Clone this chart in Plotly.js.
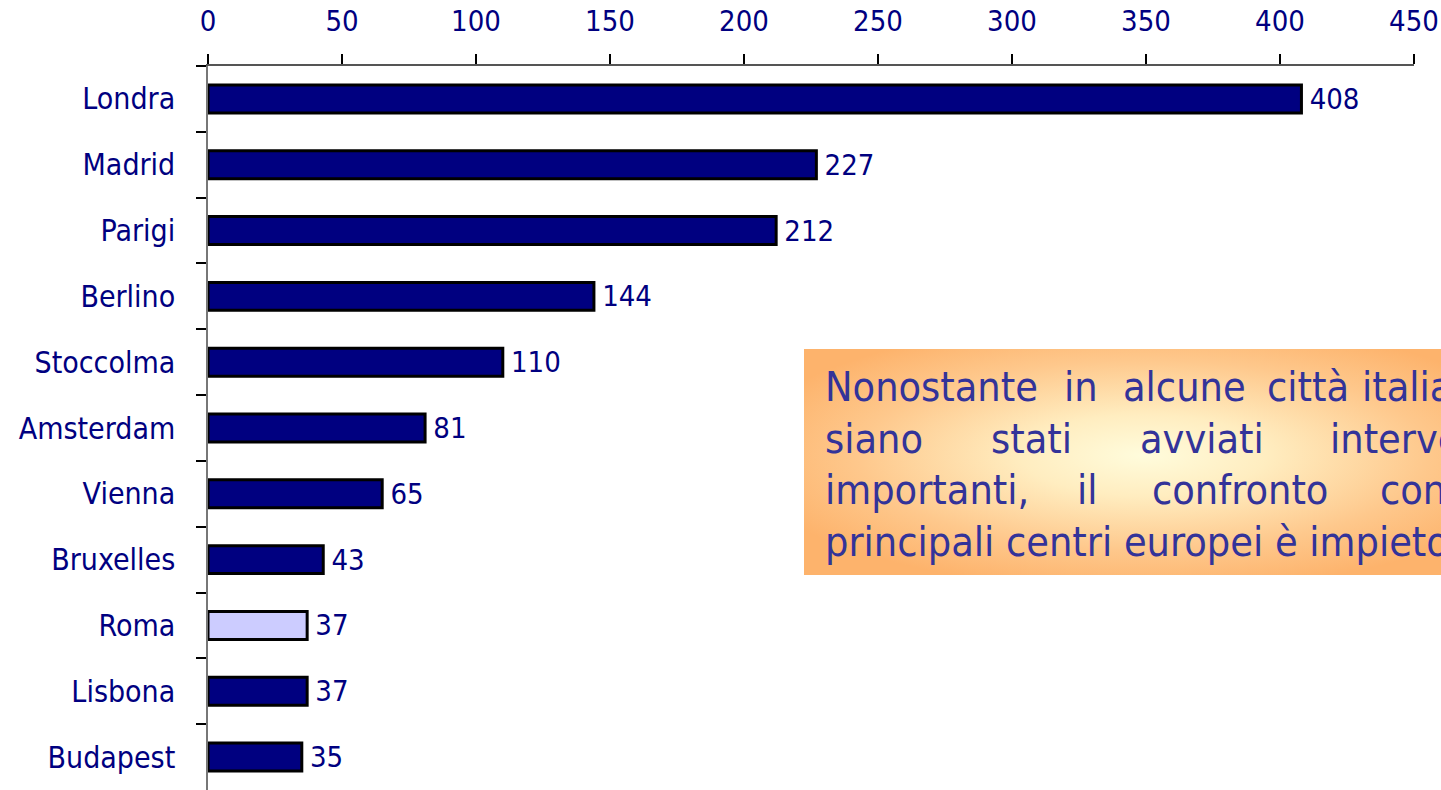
<!DOCTYPE html>
<html>
<head>
<meta charset="utf-8">
<script src="https://cdn.plot.ly/plotly-3.0.1.min.js"></script>
<style>html,body{margin:0;padding:0;background:#fff;overflow:hidden}#chart{width:1441px;height:790px}</style>
</head>
<body>
<div id="chart"></div>
<script>
const cities = ["Londra","Madrid","Parigi","Berlino","Stoccolma","Amsterdam","Vienna","Bruxelles","Roma","Lisbona","Budapest"];
const values = [408,227,212,144,110,81,65,43,37,37,35];
const highlightCity = "Roma";
const xTicks = [0,50,100,150,200,250,300,350,400,450];
const noteLines = [
  ["Nonostante","in","alcune","città","italiane"],
  ["siano","stati","avviati","interventi"],
  ["importanti,","il","confronto","con"],
  ["principali centri europei è impietoso"]
];
const noteWordX = [
  [823,1062,1121,1265,1360],
  [823,989,1138,1328],
  [823,1075,1150,1378],
  [823]
];
const noteLineY = [387,439,490,542];

const NAVY = "#000080";
const FONT = "DejaVu Sans Condensed, Tahoma, sans-serif";
const W = 1441, H = 790, ML = 208, MR = 27, MT = 66, MB = 0;
const PW = W - ML - MR, PH = H - MT - MB;
const px2x = p => (p - ML) / PW;
const py2y = p => (H - MB - p) / PH;

const colors = cities.map(c => c === highlightCity ? "#CCCCFF" : NAVY);

const trace = {
  type: "bar",
  orientation: "h",
  y: cities,
  x: values,
  marker: {color: colors, line: {color: "#000", width: 3}},
  text: values.map(v => "\u2009" + v),
  textposition: "outside",
  constraintext: "none",
  cliponaxis: false,
  textfont: {family: FONT, size: 29, color: NAVY},
  hoverinfo: "x+y"
};

const svg = '<svg xmlns="http://www.w3.org/2000/svg" width="680" height="226" viewBox="0 0 680 226" preserveAspectRatio="none">' +
  '<defs><radialGradient id="g" cx="0.5" cy="0.47" r="0.6" gradientUnits="objectBoundingBox">' +
  '<stop offset="0" stop-color="#FFFCDC"/><stop offset="0.3" stop-color="#FFEDC0"/><stop offset="0.7" stop-color="#FEC88C"/><stop offset="1" stop-color="#FDB36C"/></radialGradient></defs>' +
  '<rect x="0" y="0" width="680" height="226" fill="url(#g)"/></svg>';
const imgSrc = "data:image/svg+xml;charset=utf-8," + encodeURIComponent(svg);

const annotations = [];
noteLines.forEach((words, i) => {
  words.forEach((w, j) => {
    annotations.push({
      xref: "paper", yref: "paper",
      x: px2x(noteWordX[i][j]), y: py2y(noteLineY[i]),
      xanchor: "left", yanchor: "middle",
      text: w, showarrow: false,
      font: {family: FONT, size: 41, color: "#333399"}
    });
  });
});

const layout = {
  width: W, height: H,
  margin: {l: ML, r: MR, t: MT, b: MB, pad: 0},
  paper_bgcolor: "#fff", plot_bgcolor: "rgba(0,0,0,0)",
  showlegend: false,
  bargap: 0.575,
  xaxis: {
    side: "top", range: [0, 450], tickvals: xTicks, ticktext: xTicks.map(String),
    showgrid: false, zeroline: false,
    showline: true, linecolor: "#555", linewidth: 1.5,
    ticks: "outside", ticklen: 10, tickcolor: "#000", tickwidth: 1.5,
    tickfont: {family: FONT, size: 29, color: NAVY},
    ticklabelstandoff: 12,
    fixedrange: true
  },
  yaxis: {
    type: "category", categoryorder: "array", categoryarray: cities,
    autorange: "reversed",
    showgrid: false, zeroline: false,
    showline: true, linecolor: "#777", linewidth: 1.5,
    ticks: "outside", tickson: "boundaries", ticklen: 10, tickcolor: "#000", tickwidth: 1.5,
    tickfont: {family: FONT, size: 30, color: NAVY},
    ticklabelstandoff: 25,
    fixedrange: true
  },
  images: [{
    source: imgSrc, xref: "paper", yref: "paper",
    x: px2x(804), y: py2y(349), sizex: px2x(1484) - px2x(804), sizey: py2y(349) - py2y(575),
    xanchor: "left", yanchor: "top", sizing: "stretch", layer: "below"
  }],
  annotations: annotations
};

Plotly.newPlot("chart", [trace], layout, {displayModeBar: false});
</script>
</body>
</html>
